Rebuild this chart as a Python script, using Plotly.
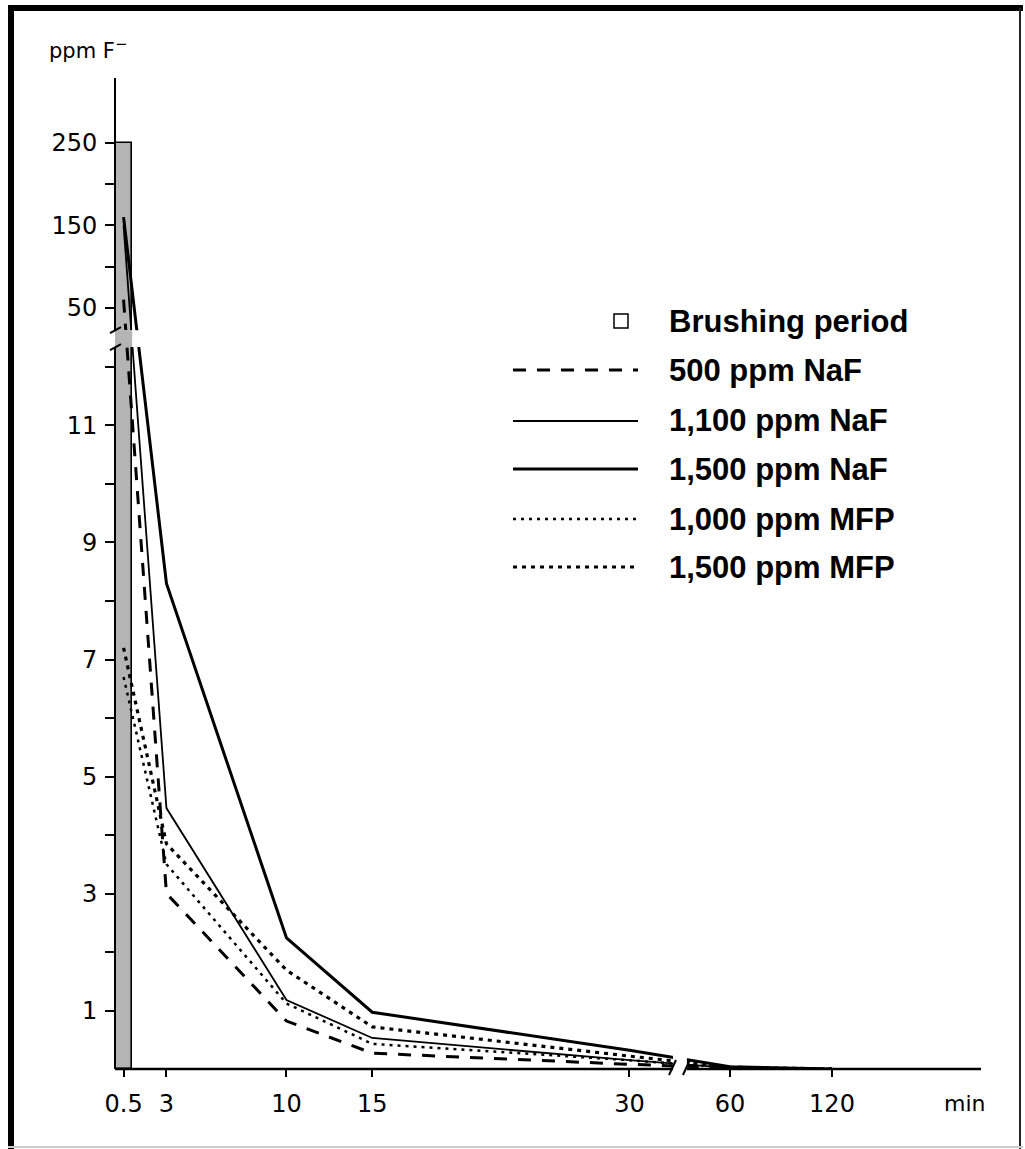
import plotly.graph_objects as go

# ---------------- data ----------------
times = [0.5, 3, 10, 15, 30, 60, 120]          # minutes
naf_500 = [60, 3.0, 0.82, 0.27, 0.08, 0.02, 0]
naf_1100 = [150, 4.46, 1.18, 0.53, 0.15, 0.02, 0]
naf_1500 = [160, 8.3, 2.24, 0.97, 0.32, 0.04, 0]
mfp_1000 = [6.7, 3.5, 1.12, 0.43, 0.15, 0.02, 0]
mfp_1500 = [7.2, 3.85, 1.69, 0.72, 0.22, 0.03, 0]

brushing_start = 0     # min
brushing_end = 1       # min
brushing_level = 250   # ppm

x_tick_values = [0.5, 3, 10, 15, 30, 60, 120]
x_tick_labels = ["0.5", "3", "10", "15", "30", "60", "120"]
y_tick_values = [1, 3, 5, 7, 9, 11, 50, 150, 250]
y_tick_labels = ["1", "3", "5", "7", "9", "11", "50", "150", "250"]
y_minor_values = [2, 4, 6, 8, 10, 12, 100, 200]

series_names = ["500 ppm NaF", "1,100 ppm NaF", "1,500 ppm NaF",
                "1,000 ppm MFP", "1,500 ppm MFP"]
series_values = [naf_500, naf_1100, naf_1500, mfp_1000, mfp_1500]

# ---------------- broken-axis scales ----------------
X_SPLIT = 32.5                    # end of the first (linear) time section
X_GAP_LO, X_GAP_HI = 32.54, 33.35
X_MAX = 50.5


def fx(t):
    if t <= X_SPLIT:
        return t
    return 35.86 + (t - 60) * 0.0992


Y_SPLIT = 12.34
Y_GAP_LO, Y_GAP_HI = 12.34, 12.63
Y_MAX = 16.94


def fy(v):
    if v <= Y_SPLIT:
        return v
    return 13.01 + (v - 50) * 0.014103


# ---------------- styles ----------------
styles = [
    dict(color="black", width=3, dash="13px,11px"),
    dict(color="black", width=1.8),
    dict(color="black", width=3),
    dict(color="black", width=2.5, dash="3px,5px"),
    dict(color="black", width=3.2, dash="4px,5px"),
]

fig = go.Figure()

# brushing period bar
fig.add_trace(go.Bar(
    x=[(fx(brushing_start) + fx(brushing_end)) / 2],
    y=[fy(brushing_level)],
    width=[fx(brushing_end) - fx(brushing_start)],
    marker=dict(color="#b4b4b4", line=dict(color="black", width=1.6)),
    showlegend=False, name="Brushing period", hoverinfo="skip",
))

for name, vals, st in zip(series_names, series_values, styles):
    fig.add_trace(go.Scatter(
        x=[fx(t) for t in times], y=[fy(v) for v in vals],
        mode="lines", line=st, name=name, showlegend=False,
    ))

# ---------------- pixel helpers for decorations ----------------
W, H = 1025, 1149
L, R, T, B = 115, 981, 78, 1069


def px_x(px):
    return (px - L) / (R - L)


def px_y(py):
    return (B - py) / (B - T)


shapes = []
# outer frame (scan border)
shapes.append(dict(type="line", xref="paper", yref="paper", x0=px_x(11), x1=px_x(11),
                    y0=px_y(5), y1=px_y(1149), line=dict(color="black", width=6)))
shapes.append(dict(type="line", xref="paper", yref="paper", x0=px_x(8), x1=px_x(1023),
                    y0=px_y(8), y1=px_y(8), line=dict(color="black", width=6)))
shapes.append(dict(type="line", xref="paper", yref="paper", x0=px_x(1020), x1=px_x(1020),
                    y0=px_y(8), y1=px_y(1149), line=dict(color="#222222", width=2)))
shapes.append(dict(type="line", xref="paper", yref="paper", x0=px_x(8), x1=px_x(1023),
                    y0=px_y(1147), y1=px_y(1147), line=dict(color="#cccccc", width=2)))

# break gaps (white) over the data lines
shapes.append(dict(type="rect", xref="x", yref="paper", x0=X_GAP_LO, x1=X_GAP_HI,
                    y0=0, y1=px_y(1035), fillcolor="white", line=dict(width=0),
                    layer="above"))
shapes.append(dict(type="rect", xref="x", yref="y", x0=0, x1=3,
                    y0=Y_GAP_LO, y1=Y_GAP_HI, fillcolor="white", line=dict(width=0),
                    layer="above"))
shapes.append(dict(type="rect", xref="x", yref="y", x0=fx(brushing_start), x1=fx(brushing_end),
                    y0=Y_GAP_LO, y1=Y_GAP_HI, fillcolor="#b4b4b4", line=dict(width=0),
                    layer="above"))

# axis lines with gaps
ax_line = dict(color="black", width=2.5)
shapes.append(dict(type="line", xref="x", yref="paper", x0=0, x1=X_GAP_LO, y0=0, y1=0,
                    line=ax_line, layer="above"))
shapes.append(dict(type="line", xref="x", yref="paper", x0=X_GAP_HI, x1=X_MAX, y0=0, y1=0,
                    line=ax_line, layer="above"))
shapes.append(dict(type="line", xref="paper", yref="y", x0=0, x1=0, y0=0, y1=Y_GAP_LO,
                    line=dict(color="black", width=2), layer="above"))
shapes.append(dict(type="line", xref="paper", yref="y", x0=0, x1=0, y0=Y_GAP_HI, y1=Y_MAX,
                    line=dict(color="black", width=2), layer="above"))

# break slashes
for yb in (Y_GAP_LO, Y_GAP_HI):
    shapes.append(dict(type="line", xref="paper", yref="y", ysizemode="pixel", yanchor=yb,
                        x0=px_x(110), x1=px_x(121), y0=-3, y1=3,
                        line=dict(color="black", width=2), layer="above"))
for xb in (X_GAP_LO, X_GAP_HI):
    shapes.append(dict(type="line", xref="x", xsizemode="pixel", xanchor=xb, yref="paper",
                        x0=-4, x1=3, y0=px_y(1075), y1=px_y(1060),
                        line=dict(color="black", width=2), layer="above"))

# ---------------- manual legend ----------------
legend_font = dict(family="Liberation Sans, Arial, sans-serif", size=31, color="black",
                   weight="bold")
annotations = []
leg_rows = [321, 370, 421, 469, 519, 567]
leg_x0, leg_x1, leg_text_x = 513, 638, 667
# brushing period symbol: hollow square
shapes.append(dict(type="rect", xref="paper", yref="paper",
                    x0=px_x(614), x1=px_x(628), y0=px_y(328), y1=px_y(314),
                    fillcolor="white", line=dict(color="black", width=1.5)))
annotations.append(dict(text="Brushing period", xref="paper", yref="paper",
                        x=px_x(leg_text_x), y=px_y(leg_rows[0]), xanchor="left",
                        yanchor="middle", showarrow=False, font=legend_font))
for name, st, row in zip(series_names, styles, leg_rows[1:]):
    shapes.append(dict(type="line", xref="paper", yref="paper",
                        x0=px_x(leg_x0), x1=px_x(leg_x1), y0=px_y(row), y1=px_y(row),
                        line=st))
    annotations.append(dict(text=name, xref="paper", yref="paper",
                            x=px_x(leg_text_x), y=px_y(row), xanchor="left",
                            yanchor="middle", showarrow=False, font=legend_font))

tick_font = dict(family="DejaVu Sans, sans-serif", size=24, color="black")
annotations.append(dict(text="ppm F<sup>\u2212</sup>", xref="paper", yref="paper",
                        x=px_x(47), y=px_y(49), xanchor="left", yanchor="middle",
                        showarrow=False, font=dict(family="DejaVu Sans, sans-serif",
                                                   size=21, color="black")))
annotations.append(dict(text="min", xref="paper", yref="paper",
                        x=px_x(965), y=px_y(1103), xanchor="center", yanchor="middle",
                        showarrow=False, font=dict(family="DejaVu Sans, sans-serif",
                                                   size=22, color="black")))

fig.update_layout(
    width=W, height=H, autosize=False,
    margin=dict(l=L, r=W - R, t=T, b=H - B, pad=0),
    paper_bgcolor="white", plot_bgcolor="white",
    showlegend=False, bargap=0,
    shapes=shapes, annotations=annotations,
    xaxis=dict(range=[0, X_MAX], showgrid=False, zeroline=False, showline=False,
               tickmode="array", tickvals=[fx(t) for t in x_tick_values],
               ticktext=x_tick_labels, ticks="outside", ticklen=7, tickwidth=1.5,
               tickcolor="black", tickfont=tick_font, ticklabelstandoff=6),
    yaxis=dict(range=[0, Y_MAX], showgrid=False, zeroline=False, showline=False,
               tickmode="array", tickvals=[fy(v) for v in y_tick_values],
               ticktext=y_tick_labels, ticks="outside", ticklen=9, tickwidth=1.5,
               tickcolor="black", tickfont=tick_font, ticklabelstandoff=3,
               minor=dict(tickmode="array", tickvals=[fy(v) for v in y_minor_values],
                          ticks="outside", ticklen=9, tickwidth=1.5, tickcolor="black",
                          showgrid=False)),
)

fig.write_html("out.html")
